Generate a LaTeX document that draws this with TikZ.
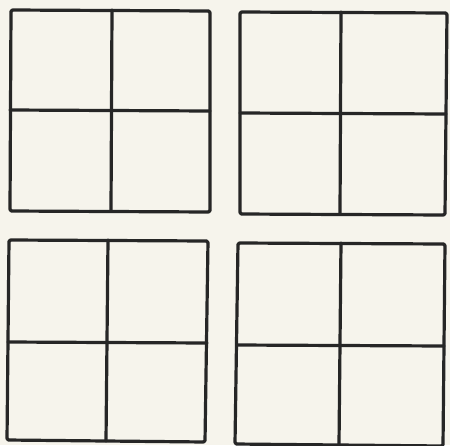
\documentclass[tikz,border=0pt]{standalone}
\definecolor{paper}{HTML}{F6F4EC}
\definecolor{ink}{HTML}{262626}
\begin{document}
\begin{tikzpicture}[x=1pt,y=-1pt,
  gridline/.style={draw=ink, line width=3.2pt, line join=round, line cap=round, rounded corners=1.5pt}]
\fill[paper] (0,0) rectangle (450,445);
\useasboundingbox (0,0) rectangle (450,445);
% top-left block
\draw[gridline] (11,10) -- (210,11) -- (210,212) -- (10,211) -- cycle;
\draw[gridline] (112,10) -- (111,211);
\draw[gridline] (10,110) -- (210,111);
% top-right block
\draw[gridline] (240,12) -- (447,13) -- (445,215) -- (240,214) -- cycle;
\draw[gridline] (341,12) -- (340,214);
\draw[gridline] (240,113) -- (446,114);
% bottom-left block
\draw[gridline] (9,240) -- (208,241) -- (205,442) -- (7,440) -- cycle;
\draw[gridline] (108,240) -- (106,441);
\draw[gridline] (8,342) -- (207,343);
% bottom-right block
\draw[gridline] (238,243) -- (445,244) -- (443,446) -- (235,444) -- cycle;
\draw[gridline] (341,243) -- (339,445);
\draw[gridline] (237,345) -- (444,346);
\end{tikzpicture}
\end{document}
